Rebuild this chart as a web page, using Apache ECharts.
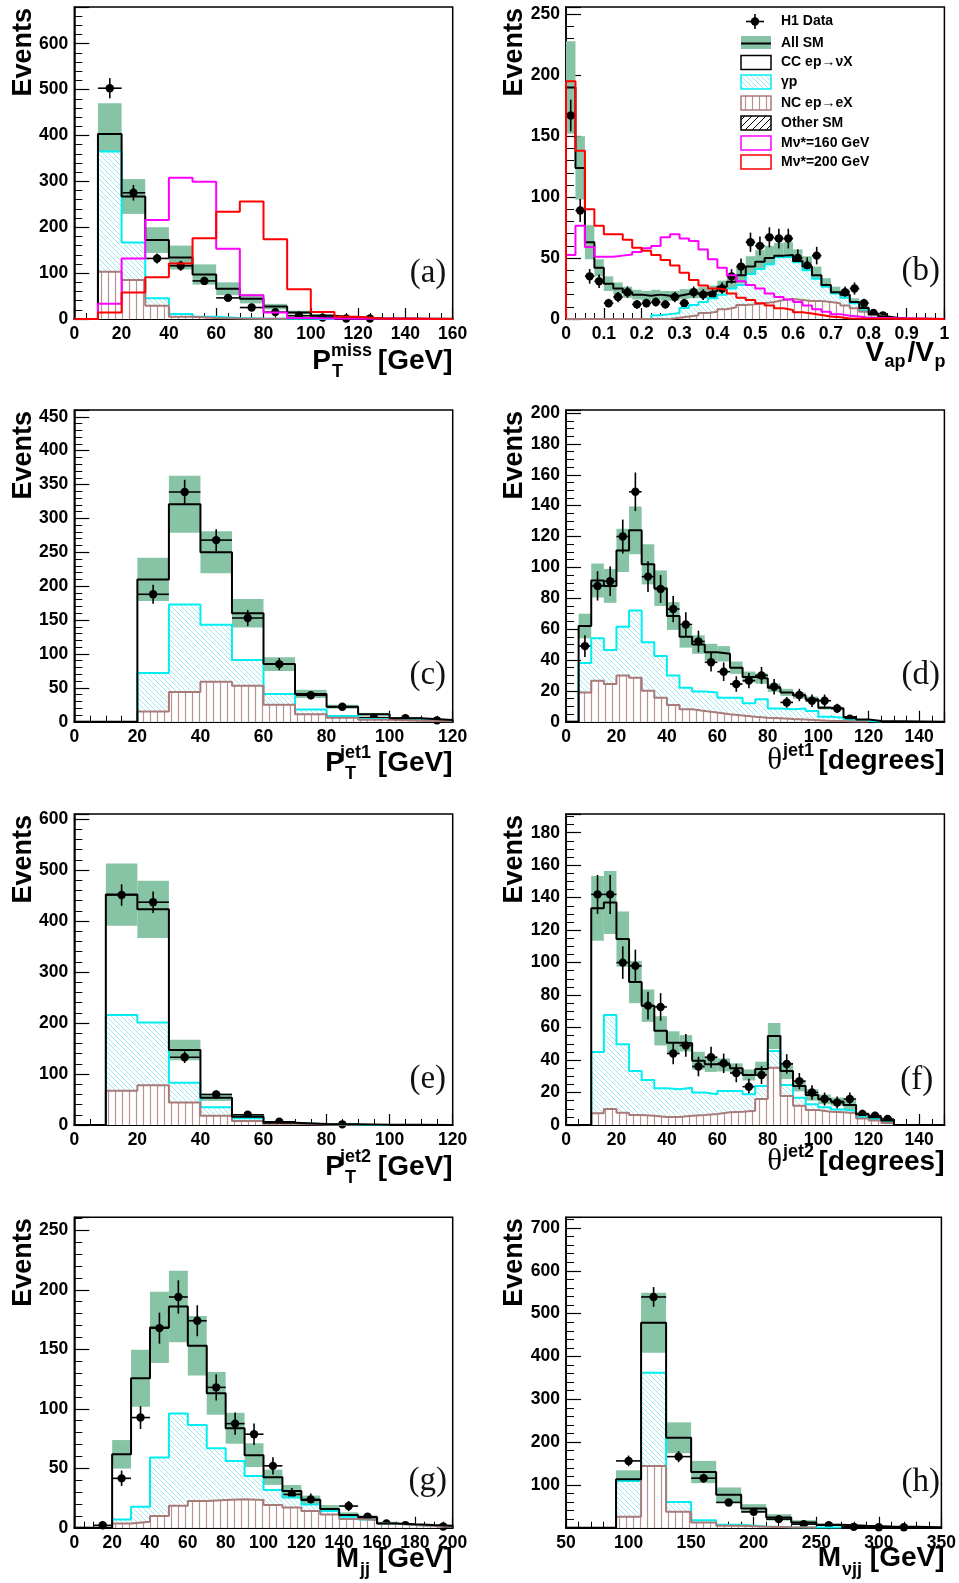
<!DOCTYPE html>
<html><head><meta charset="utf-8">
<script src="https://cdn.jsdelivr.net/npm/echarts@6/dist/echarts.min.js"></script>
<style>html,body{margin:0;padding:0;background:#fff}#c{width:959px;height:1583px}</style>
</head><body><div id="c"></div>
<script>
// ---------------- DATA ----------------
// (a) PT miss
const aLo = 10, aBinW = 10;
const aSM = [403, 267, 172, 134, 97, 66, 44, 27, 14, 7, 3, 1.5, 1, 0.5, 0.3];
const aSMErr = [67, 38, 28, 26, 22, 14, 10, 6, 4, 4, 2, 1, 0.5, 0.3, 0.2];
const aGammaP = [365, 167, 45, 11, 5, 2, 1, 0.5, 0.3, 0.2];
const aNC = [103, 85, 29, 5, 2, 1, 0.5, 0.3];
const aS160 = [33, 132, 216, 308, 299, 153, 52, 14, 2, 1];
const aS200 = [14, 58, 91, 121, 176, 234, 256, 174, 65, 15, 5, 1];
const aDataX = [15, 25, 35, 45, 55, 65, 75, 85, 95, 105, 115, 125];
const aData = [503, 275, 132, 116, 83, 46, 25, 15, 7, 3, 1, 1];
const aDataErr = [22, 17, 11, 11, 9, 7, 5, 4, 3, 2, 1, 1];
const aXAxis = [0, 160, 20, 4];
const aYAxis = [0, 680, 100, 5];

// (b) Vap/Vp
const bLo = 0, bBinW = 0.025;
const bSM = [190, 124, 63, 42, 29, 25, 22, 20, 19, 20, 19, 19, 20.5, 21, 21.6, 23, 26.5, 30.6, 36, 43, 47, 50, 52, 52.5, 47.6, 43, 36, 28, 22, 20, 14, 9, 4, 2, 1, 0.5, 0.3, 0.2];
const bSMErr = [38, 26, 14, 7, 6, 5, 4.5, 4, 4, 4, 4, 4, 4, 4, 4.5, 4.5, 5, 6, 7, 8.5, 9.5, 10, 10.5, 10.5, 9.5, 8.5, 7, 5.5, 4.5, 4, 3, 2, 1, 0.5, 0.3, 0.2, 0.1, 0.1];
const bGammaP = [0, 0, 0, 0, 0, 0, 0, 0, 0, 3, 4, 5, 9, 11.5, 14, 17, 20, 25, 28, 37, 41, 45, 50.6, 51, 46.5, 40, 33, 26.5, 21, 17.5, 13, 7, 3, 1.4, 0.5];
const bNC = [0, 0, 0, 0, 0, 0, 0, 0, 0, 0, 0, 1, 2, 3, 5, 6, 8, 9.6, 11.5, 12, 13, 14, 15.6, 16.4, 15.6, 14.8, 14.8, 14, 13, 11, 8.8, 6, 3, 1.4, 0.5];
const bS160 = [52.5, 76.6, 59, 51, 51, 52, 53, 55, 58, 60, 67, 69.5, 66, 64, 57, 49, 42, 36, 31, 28, 25, 21, 18, 16, 14, 11, 8, 6, 4, 2.7, 2, 1];
const bS200 = [195, 138, 90, 76.6, 69.5, 69.5, 65, 58.5, 56, 52.5, 48.4, 43.8, 38, 32, 27.4, 25, 24, 21, 17.5, 15.6, 13, 11, 8.8, 7.4, 5.5, 4.6, 3.3, 2, 1.4, 0.5];
const bDataX = [0.0125, 0.0375, 0.0625, 0.0875, 0.1125, 0.1375, 0.1625, 0.1875, 0.2125, 0.2375, 0.2625, 0.2875, 0.3125, 0.3375, 0.3625, 0.3875, 0.4125, 0.4375, 0.4625, 0.4875, 0.5125, 0.5375, 0.5625, 0.5875, 0.6125, 0.6375, 0.6625, 0.6875, 0.7125, 0.7375, 0.7625, 0.7875, 0.8125, 0.8375];
const bData = [167, 89, 35, 31, 13, 18, 22, 12, 13, 14, 12, 18, 13, 22, 20, 20, 25, 35, 43, 63, 60, 67, 66, 66, 50, 44, 52, 24, 18, 22, 25, 13, 5, 3];
const bDataErr = [13, 9.5, 6, 5.5, 3.6, 4.2, 4.7, 3.5, 3.6, 3.7, 3.5, 4.2, 3.6, 4.7, 4.5, 4.5, 5, 5.9, 6.6, 7.9, 7.7, 8.2, 8.1, 8.1, 7.1, 6.6, 7.2, 4.9, 4.2, 4.7, 5, 3.6, 2.2, 1.7];
const bXAxis = [0, 1, 0.1, 4];
const bYAxis = [0, 256, 50, 5];

// (c) PT jet1
const cLo = 20, cBinW = 10;
const cSM = [210, 321, 250, 160, 85, 41, 22, 11, 5, 2.5];
const cSMErr = [32, 42, 31, 21, 10, 6, 3, 2, 1, 0.5];
const cGammaP = [72, 173, 143, 91, 41, 18, 8.4, 4, 2, 1];
const cNC = [15, 44, 59, 53, 25, 11, 6, 3, 1.5, 0.5];
const cDataX = [25, 35, 45, 55, 65, 75, 85, 95, 105, 115];
const cData = [188, 339, 268, 153, 85, 39, 22, 6, 5, 2];
const cDataErr = [14, 18, 16, 12, 9, 6, 5, 2.5, 2.2, 1.4];
const cXAxis = [0, 120, 20, 4];
const cYAxis = [0, 460, 50, 5];

// (d) theta jet1
const dLo = 5, dBinW = 5;
const dSM = [62, 91.5, 88, 111, 124, 102, 86.5, 68.5, 55, 50, 45, 44, 35, 29, 28, 22, 19, 17, 14.5, 9, 8.5, 3, 1.5, 0.5];
const dSMErr = [8, 11, 11, 14, 15.5, 13, 11.5, 9, 7, 6, 5.5, 5, 4, 3.5, 3.4, 2.7, 2.3, 2, 1.8, 1.1, 1, 0.4, 0.2, 0.1];
const dGammaP = [38, 54, 46.5, 61.6, 72, 51.5, 42.6, 30, 22, 19.5, 19, 15.6, 15.6, 12, 14.5, 8.6, 8, 8.6, 7, 3.2, 2.6, 1, 0.5, 0.2];
const dNC = [19, 26.6, 24.4, 30, 28.5, 20, 15.6, 10.8, 8, 7, 6, 4.8, 4, 3.2, 2.6, 2.2, 1.7, 1.5, 1, 0.5, 0.4, 0.2, 0.1];
const dDataX = [7.5, 12.5, 17.5, 22.5, 27.5, 32.5, 37.5, 42.5, 47.5, 52.5, 57.5, 62.5, 67.5, 72.5, 77.5, 82.5, 87.5, 92.5, 97.5, 102.5, 107.5, 112.5];
const dData = [49, 88, 91, 120, 149, 94, 86, 73, 63, 52, 38.5, 32.4, 24.4, 26.6, 30, 22.7, 12.5, 17.3, 13.6, 13.6, 8.6, 2];
const dDataErr = [7, 9.5, 9.5, 11, 12.5, 10, 9, 8.5, 8, 7, 6, 6, 5, 5, 5.5, 5, 3.5, 4, 4, 4, 3, 1.5];
const dXAxis = [0, 150, 20, 4];
const dYAxis = [0, 202, 20, 4];

// (e) PT jet2
const eLo = 10, eBinW = 10;
const eSM = [452, 423, 147, 53.6, 16.3, 4.6, 2, 1.3, 0.5, 0.3];
const eSMErr = [61, 56, 20, 6.4, 5, 2, 1, 0.5, 0.2, 0.1];
const eGammaP = [216, 201, 83, 34.6, 13, 4, 1.5, 0.5, 0.2];
const eNC = [67, 78, 44, 18, 8, 2.6, 1, 0.3];
const eDataX = [15, 25, 35, 45, 55, 65, 85];
const eData = [451, 437, 133, 60, 20, 6.5, 1.3];
const eDataErr = [21, 21, 11.5, 7.7, 4.4, 2.5, 1.1];
const eXAxis = [0, 120, 20, 4];
const eYAxis = [0, 610, 100, 5];

// (f) theta jet2
const fLo = 10, fBinW = 5;
const fSM = [133.4, 137, 114.5, 88, 73.5, 58, 50.7, 50.3, 39.6, 37.4, 37, 35, 30.8, 34.5, 54.8, 33.3, 24, 18.5, 15.8, 14.4, 12.3, 6.6, 4.7, 2.7];
const fSMErr = [20, 19.4, 17, 13, 10, 9, 7, 5, 5.5, 4.7, 4, 3, 3.4, 4.5, 8, 5, 3.3, 3.5, 3, 2.5, 3, 1.2, 1, 0.4];
const fGammaP = [45, 67.7, 49.7, 33.3, 27.7, 22.6, 22, 23, 20, 19, 21, 21, 19, 24, 45.6, 24.6, 16.8, 12.7, 10.9, 9.6, 8.6, 5, 3.7, 2];
const fNC = [7.2, 9.8, 7.6, 6.2, 5.7, 5, 5, 5.7, 6.2, 6.8, 7.8, 8.2, 8.8, 16, 35.3, 17.9, 11.9, 9.2, 8.2, 7.8, 7.2, 4, 2.7, 1.2];
const fDataX = [12.5, 17.5, 22.5, 27.5, 32.5, 37.5, 42.5, 47.5, 52.5, 57.5, 62.5, 67.5, 72.5, 77.5, 82.5, 87.5, 92.5, 97.5, 102.5, 107.5, 112.5, 117.5, 122.5, 127.5];
const fData = [142, 142, 100, 98, 73.5, 72.7, 44, 49, 36, 41.7, 38, 32, 23.6, 30.8, 39.6, 37.6, 27, 20, 16, 13.8, 16, 6.8, 5.7, 3.7];
const fDataErr = [12, 12, 10, 10, 8.5, 8.5, 6.6, 7, 6, 6.5, 6, 5.7, 4.9, 5.5, 6.3, 6, 5, 4.5, 4, 3.7, 4, 2.6, 2.4, 1.9];
const fXAxis = [0, 150, 20, 4];
const fYAxis = [0, 191.5, 20, 4];

// (g) Mjj
const gLo = 20, gBinW = 10;
const gSM = [61.7, 125.7, 168.4, 186, 153, 113, 83.6, 61, 42.4, 30.9, 23.3, 15.7, 10.7, 8.7, 3.6, 2.8, 2.2, 1.7];
const gSMErr = [12, 24, 30, 30, 25, 18, 13, 10, 6.4, 5, 3.7, 3.3, 2.2, 1.3, 1.4, 0.8, 0.6, 0.5];
const gGammaP = [7, 17.7, 59, 96, 86.4, 66.8, 56, 43.5, 31.7, 25.3, 19.6, 14, 9.3, 7, 3.6, 2.2, 1.7, 1];
const gNC = [3.6, 5, 9.8, 18.5, 22.4, 23.3, 24, 23.3, 19, 17, 14, 11.2, 7.3, 6.5, 3.6, 2.2, 1.4, 0.8];
const gDataX = [15, 25, 35, 45, 55, 65, 75, 85, 95, 105, 115, 125, 135, 145, 155, 165, 175, 195];
const gData = [2, 41.5, 92.6, 167.8, 194, 174, 118, 87.5, 78.6, 52, 28, 23.8, 8.4, 18.2, 9.3, 3.6, 2.2, 1];
const gDataErr = [1.4, 6.5, 9.6, 13, 14, 13, 11, 9.4, 9, 7.2, 5.3, 4.9, 2.9, 4.3, 3, 1.9, 1.5, 1];
const gXAxis = [0, 200, 20, 4];
const gYAxis = [0, 261, 50, 5];

// (h) M nu jj
const hLo = 90, hBinW = 20;
const hSM = [113, 478.5, 210, 130, 77, 45, 24, 12, 7, 4.4, 3, 2, 1];
const hSMErr = [21, 70, 36, 26, 17, 10, 7.5, 5.5, 2, 1, 0.5, 0.3, 0.2];
const hGammaP = [109, 362, 60, 17.6, 6.8, 2.9, 1, 0.5, 0.2];
const hNC = [25.4, 144.4, 37, 12, 4.4, 2, 1, 0.3];
const hDataX = [100, 120, 140, 160, 180, 200, 220, 240, 260, 280, 300, 320];
const hData = [156, 539, 166, 115.7, 59, 37, 20, 8.3, 6, 2, 1, 1];
const hDataErr = [12.5, 23, 13, 10.7, 7.7, 6, 4.5, 2.9, 2.4, 1.4, 1, 1];
const hXAxis = [50, 350, 50, 5];
const hYAxis = [0, 725, 100, 5];

const panelLetters = ['(a)', '(b)', '(c)', '(d)', '(e)', '(f)', '(g)', '(h)'];
const legendLabels = ['H1 Data', 'All SM', 'CC ep\u2192\u03bdX', '\u03b3p', 'NC ep\u2192eX', 'Other SM', 'M\u03bd*=160 GeV', 'M\u03bd*=200 GeV'];

// ---------------- STYLE / LAYOUT ----------------
const FONT = '"Liberation Sans", Arial, Helvetica, sans-serif';
const SERIF = '"Liberation Serif", "Times New Roman", serif';
const BAND = '#87c4a5';
const CYAN = '#00eef2';
const BROWN = '#a87a78';
const colLeft = [74.3, 566];
const plotW = 378.4;
const rowTop = [7, 410, 814, 1217.3];
const rowH = [312, 311.7, 311, 310.4];

function makeCanvas(w, h, draw) {
  const c = document.createElement('canvas'); c.width = w; c.height = h;
  const x = c.getContext('2d'); x.fillStyle = '#fff'; x.fillRect(0, 0, w, h); draw(x, w, h); return c;
}
const cyanPat = makeCanvas(5, 5, (x, s) => {
  x.strokeStyle = '#9fe8f0'; x.lineWidth = 1; x.beginPath();
  x.moveTo(0, 0); x.lineTo(s, s); x.moveTo(-1, s - 1); x.lineTo(1, s + 1); x.moveTo(s - 1, -1); x.lineTo(s + 1, 1); x.stroke();
});
const brownPat = makeCanvas(7, 4, (x) => {
  x.strokeStyle = '#b89292'; x.lineWidth = 1.2; x.beginPath(); x.moveTo(3.5, 0); x.lineTo(3.5, 4); x.stroke();
});
const blackPat = makeCanvas(7, 7, (x, s) => {
  x.strokeStyle = '#000'; x.lineWidth = 1; x.beginPath();
  x.moveTo(0, s); x.lineTo(s, 0); x.moveTo(-1, 1); x.lineTo(1, -1); x.moveTo(s - 1, s + 1); x.lineTo(s + 1, s - 1); x.stroke();
});

const panels = [
  { lo: aLo, w: aBinW, sm: aSM, err: aSMErr, gp: aGammaP, nc: aNC, s160: aS160, s200: aS200, dx: aDataX, dy: aData, de: aDataErr, xr: aXAxis, yr: aYAxis },
  { lo: bLo, w: bBinW, sm: bSM, err: bSMErr, gp: bGammaP, nc: bNC, s160: bS160, s200: bS200, dx: bDataX, dy: bData, de: bDataErr, xr: bXAxis, yr: bYAxis },
  { lo: cLo, w: cBinW, sm: cSM, err: cSMErr, gp: cGammaP, nc: cNC, dx: cDataX, dy: cData, de: cDataErr, xr: cXAxis, yr: cYAxis },
  { lo: dLo, w: dBinW, sm: dSM, err: dSMErr, gp: dGammaP, nc: dNC, dx: dDataX, dy: dData, de: dDataErr, xr: dXAxis, yr: dYAxis },
  { lo: eLo, w: eBinW, sm: eSM, err: eSMErr, gp: eGammaP, nc: eNC, dx: eDataX, dy: eData, de: eDataErr, xr: eXAxis, yr: eYAxis },
  { lo: fLo, w: fBinW, sm: fSM, err: fSMErr, gp: fGammaP, nc: fNC, dx: fDataX, dy: fData, de: fDataErr, xr: fXAxis, yr: fYAxis },
  { lo: gLo, w: gBinW, sm: gSM, err: gSMErr, gp: gGammaP, nc: gNC, dx: gDataX, dy: gData, de: gDataErr, xr: gXAxis, yr: gYAxis },
  { lo: hLo, w: hBinW, sm: hSM, err: hSMErr, gp: hGammaP, nc: hNC, dx: hDataX, dy: hData, de: hDataErr, xr: hXAxis, yr: hYAxis, hideYMin: true }
];

// axis titles: [text, x, baseline, size, align, family, weight]
const xTitles = [
  [['P', 331, 371, 28, 'right'], ['T', 332, 378, 18, 'left'], ['miss', 372, 357, 18, 'right'], ['[GeV]', 452.5, 371, 28, 'right']],
  [['V', 884, 363, 28, 'right'], ['ap', 884.5, 368, 18, 'left'], ['/V', 934, 363, 28, 'right'], ['p', 934.5, 368, 18, 'left']],
  [['P', 344, 773, 28, 'right'], ['T', 345, 780, 18, 'left'], ['jet1', 371, 759, 18, 'right'], ['[GeV]', 452.5, 773, 28, 'right']],
  [['\u03b8', 782, 771, 31, 'right', SERIF, 'normal'], ['jet1', 783, 757, 18, 'left'], ['[degrees]', 944.5, 771, 28, 'right']],
  [['P', 344, 1177, 28, 'right'], ['T', 345, 1184, 18, 'left'], ['jet2', 371, 1163, 18, 'right'], ['[GeV]', 452.5, 1177, 28, 'right']],
  [['\u03b8', 782, 1172, 31, 'right', SERIF, 'normal'], ['jet2', 783, 1158, 18, 'left'], ['[degrees]', 944.5, 1172, 28, 'right']],
  [['M', 359, 1569, 28, 'right'], ['jj', 360, 1576, 18, 'left'], ['[GeV]', 452.5, 1569, 28, 'right']],
  [['M', 841, 1568, 28, 'right'], ['\u03bdjj', 842, 1576, 18, 'left'], ['[GeV]', 944.5, 1568, 28, 'right']]
];
const letterPos = [[428, 273], [920.7, 271], [427.7, 675], [920.7, 675], [427.7, 1079], [916.7, 1080], [427.7, 1481], [920.7, 1482]];

function stepPts(lo, w, vals, xmin, xmax) {
  const pts = [];
  if (xmin !== undefined) pts.push([xmin, 0]);
  pts.push([lo, 0]);
  vals.forEach((v, i) => pts.push([lo + i * w, v]));
  pts.push([lo + vals.length * w, 0]);
  if (xmax !== undefined) pts.push([xmax, 0]);
  return pts;
}
function aligned(v, step) { return Math.abs(Math.round(v / step) * step - v) < 1e-9; }
function fmt(v) { return '{b|' + String(Math.round(v * 1000) / 1000) + '}'; }

function bandRender(params, api) {
  const p0 = api.coord([api.value(0), api.value(3)]);
  const p1 = api.coord([api.value(1), api.value(2)]);
  return { type: 'rect', shape: { x: p0[0], y: p0[1], width: p1[0] - p0[0], height: p1[1] - p0[1] }, style: { fill: BAND } };
}
function makeDataRender(xe) {
  return function (params, api) {
    const x = api.value(0), y = api.value(1), ey = api.value(2);
    const c = api.coord([x, y]);
    const l = api.coord([x - xe, y]), r = api.coord([x + xe, y]);
    const t = api.coord([x, y + ey]), b = api.coord([x, Math.max(0, y - ey)]);
    return { type: 'group', children: [
      { type: 'line', shape: { x1: l[0], y1: c[1], x2: r[0], y2: c[1] }, style: { stroke: '#000', lineWidth: 1.6 } },
      { type: 'line', shape: { x1: c[0], y1: t[1], x2: c[0], y2: b[1] }, style: { stroke: '#000', lineWidth: 1.6 } },
      { type: 'circle', shape: { cx: c[0], cy: c[1], r: 4.2 }, style: { fill: '#000' } }
    ] };
  };
}

const grids = [], xAxes = [], yAxes = [], series = [], graphics = [];
function addText(text, x, baseline, size, align, family, weight) {
  family = family || FONT; weight = weight || 'bold';
  const off = family === SERIF ? 0.3375 : 0.3465;
  graphics.push({ type: 'text', x: x, y: baseline - off * size, z: 100,
    style: { text: text, font: weight + ' ' + size + 'px ' + family, fill: '#000', textAlign: align, verticalAlign: 'middle', textVerticalAlign: 'middle' } });
}
const labRich = { b: { fontFamily: 'Liberation Sans', fontWeight: 'bold', fontSize: 17.5, color: '#000' } };

panels.forEach((P, i) => {
  const col = i % 2, row = Math.floor(i / 2);
  grids.push({ left: colLeft[col], top: rowTop[row], width: plotW, height: rowH[row], show: true, borderColor: '#000', borderWidth: 1.5 });
  const [xmin, xmax, xint, xminor] = P.xr;
  const [ymin, ymax, yint, yminor] = P.yr;
  const lab = { color: '#000', fontFamily: 'Liberation Sans', fontWeight: 'bold', fontSize: 17.5, formatter: fmt, rich: labRich };
  xAxes.push({ gridIndex: i, type: 'value', min: xmin, max: xmax, interval: xint,
    axisLine: { onZero: false, lineStyle: { color: '#000', width: 2 } },
    axisTick: { inside: true, length: 11, lineStyle: { color: '#000', width: 1.2 } },
    minorTick: { show: true, splitNumber: xminor, length: 6, lineStyle: { color: '#000', width: 1 } },
    splitLine: { show: false }, minorSplitLine: { show: false },
    axisLabel: Object.assign({ margin: 6, showMaxLabel: aligned(xmax, xint), showMinLabel: true }, lab) });
  yAxes.push({ gridIndex: i, type: 'value', min: ymin, max: ymax, interval: yint,
    axisLine: { onZero: false, lineStyle: { color: '#000', width: 1.5 } },
    axisTick: { inside: true, length: 15, lineStyle: { color: '#000', width: 1.2 } },
    minorTick: { show: true, splitNumber: yminor, length: 8, lineStyle: { color: '#000', width: 1 } },
    splitLine: { show: false }, minorSplitLine: { show: false },
    axisLabel: Object.assign({ margin: 6, showMaxLabel: aligned(ymax, yint), showMinLabel: !P.hideYMin }, lab) });

  const base = { xAxisIndex: i, yAxisIndex: i, silent: true, animation: false };
  series.push(Object.assign({ type: 'custom', renderItem: bandRender, encode: { x: [0, 1], y: [2, 3] },
    data: P.sm.map((v, k) => [P.lo + k * P.w, P.lo + (k + 1) * P.w, Math.max(0, v - P.err[k]), v + P.err[k]]) }, base));
  series.push(Object.assign({ type: 'line', step: 'end', symbol: 'none', data: stepPts(P.lo, P.w, P.gp),
    lineStyle: { color: CYAN, width: 2 }, areaStyle: { color: { image: cyanPat, repeat: 'repeat' }, opacity: 1 } }, base));
  series.push(Object.assign({ type: 'line', step: 'end', symbol: 'none', data: stepPts(P.lo, P.w, P.nc),
    lineStyle: { color: BROWN, width: 2 }, areaStyle: { color: { image: brownPat, repeat: 'repeat' }, opacity: 1 } }, base));
  series.push(Object.assign({ type: 'line', step: 'end', symbol: 'none', data: stepPts(P.lo, P.w, P.sm, xmin, xmax),
    lineStyle: { color: '#000', width: 2 } }, base));
  if (P.s160) series.push(Object.assign({ type: 'line', step: 'end', symbol: 'none', data: stepPts(P.lo, P.w, P.s160, xmin, xmax),
    lineStyle: { color: '#ff00ff', width: 2 } }, base));
  if (P.s200) series.push(Object.assign({ type: 'line', step: 'end', symbol: 'none', data: stepPts(P.lo, P.w, P.s200, xmin, xmax),
    lineStyle: { color: '#ff0000', width: 2 } }, base));
  series.push(Object.assign({ type: 'custom', renderItem: makeDataRender(P.w / 2), encode: { x: 0, y: 1 },
    data: P.dx.map((x, k) => [x, P.dy[k], P.de[k]]) }, base));

  graphics.push({ type: 'text', x: col === 0 ? 24 : 515, y: rowTop[row] + 1, rotation: Math.PI / 2, z: 100,
    style: { text: 'Events', font: 'bold 27px ' + FONT, fill: '#000', textAlign: 'right', verticalAlign: 'middle', textVerticalAlign: 'middle' } });
  xTitles[i].forEach(t => addText(t[0], t[1], t[2], t[3], t[4], t[5], t[6]));
  graphics.push({ type: 'text', x: letterPos[i][0], y: letterPos[i][1], z: 100,
    style: { text: panelLetters[i], font: 'normal 33px ' + SERIF, fill: '#111', textAlign: 'center', verticalAlign: 'middle', textVerticalAlign: 'middle' } });
});

// Legend (panel b)
const LX = 741, LW = 30, TX = 781;
const rowsY = [21.5, 43, 62.5, 82, 103, 123, 143, 162];
graphics.push(
  { type: 'line', z: 100, shape: { x1: 746, y1: rowsY[0], x2: 764, y2: rowsY[0] }, style: { stroke: '#000', lineWidth: 1.6 } },
  { type: 'line', z: 100, shape: { x1: 755, y1: rowsY[0] - 7.5, x2: 755, y2: rowsY[0] + 7.5 }, style: { stroke: '#000', lineWidth: 1.6 } },
  { type: 'circle', z: 100, shape: { cx: 755, cy: rowsY[0], r: 4.2 }, style: { fill: '#000' } },
  { type: 'rect', z: 100, shape: { x: LX, y: rowsY[1] - 7, width: LW, height: 13 }, style: { fill: BAND } },
  { type: 'line', z: 101, shape: { x1: LX, y1: rowsY[1] + 0.5, x2: LX + LW, y2: rowsY[1] + 0.5 }, style: { stroke: '#000', lineWidth: 2 } },
  { type: 'rect', z: 100, shape: { x: LX, y: rowsY[2] - 7, width: LW, height: 14 }, style: { fill: '#fff', stroke: '#000', lineWidth: 1.5 } },
  { type: 'rect', z: 100, shape: { x: LX, y: rowsY[3] - 7, width: LW, height: 14 }, style: { fill: { image: cyanPat, repeat: 'repeat' }, stroke: CYAN, lineWidth: 1.5 } },
  { type: 'rect', z: 100, shape: { x: LX, y: rowsY[4] - 7, width: LW, height: 14 }, style: { fill: { image: brownPat, repeat: 'repeat' }, stroke: BROWN, lineWidth: 1.5 } },
  { type: 'rect', z: 100, shape: { x: LX, y: rowsY[5] - 7, width: LW, height: 14 }, style: { fill: { image: blackPat, repeat: 'repeat' }, stroke: '#000', lineWidth: 1.5 } },
  { type: 'rect', z: 100, shape: { x: LX, y: rowsY[6] - 7, width: LW, height: 14 }, style: { fill: '#fff', stroke: '#ff00ff', lineWidth: 1.5 } },
  { type: 'rect', z: 100, shape: { x: LX, y: rowsY[7] - 7, width: LW, height: 14 }, style: { fill: '#fff', stroke: '#ff0000', lineWidth: 1.5 } }
);
legendLabels.forEach((t, k) => {
  graphics.push({ type: 'text', x: TX, y: rowsY[k], z: 100,
    style: { text: t, font: 'bold 14px ' + FONT, fill: '#000', textAlign: 'left', verticalAlign: 'middle', textVerticalAlign: 'middle' } });
});

const chart = echarts.init(document.getElementById('c'), null, { renderer: 'canvas', width: 959, height: 1583 });
chart.setOption({
  animation: false,
  backgroundColor: '#fff',
  textStyle: { fontFamily: 'Liberation Sans', fontWeight: 'bold' },
  grid: grids, xAxis: xAxes, yAxis: yAxes, series: series,
  graphic: { elements: graphics }
});
</script></body></html>
